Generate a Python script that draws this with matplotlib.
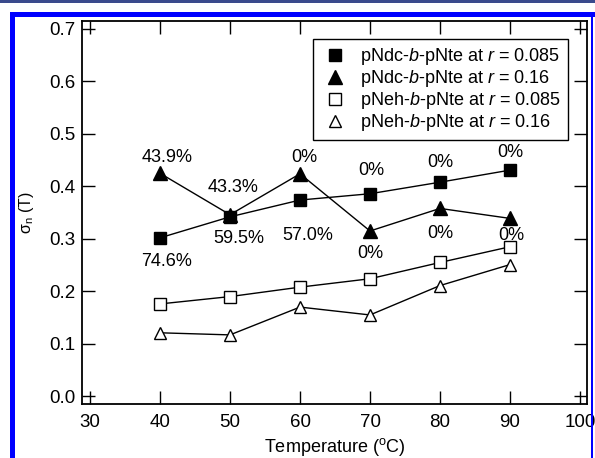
import matplotlib
matplotlib.use("Agg")
import matplotlib.pyplot as plt
from matplotlib.patches import Rectangle

plt.rcParams['font.family'] = ['Liberation Sans', 'DejaVu Sans']
plt.rcParams['mathtext.fontset'] = 'custom'
plt.rcParams['mathtext.rm'] = 'Liberation Sans'
plt.rcParams['mathtext.it'] = 'Liberation Sans:italic'

# data
temps = [40, 50, 60, 70, 80, 90]
ndc_085 = [0.302, 0.342, 0.374, 0.386, 0.408, 0.431]
ndc_16 = [0.425, 0.346, 0.424, 0.315, 0.358, 0.339]
neh_085 = [0.176, 0.190, 0.208, 0.224, 0.255, 0.285]
neh_16 = [0.121, 0.117, 0.170, 0.155, 0.211, 0.251]

labels = [r'pNdc-$\it{b}$-pNte at $\it{r}$ = 0.085',
          r'pNdc-$\it{b}$-pNte at $\it{r}$ = 0.16',
          r'pNeh-$\it{b}$-pNte at $\it{r}$ = 0.085',
          r'pNeh-$\it{b}$-pNte at $\it{r}$ = 0.16']

# percentage annotations (text, x, y)
ann_text = ['43.9%', '43.3%', '0%', '0%', '0%', '0%',
            '74.6%', '59.5%', '57.0%', '0%', '0%', '0%']
ann_x = [41.0, 50.4, 60.6, 70.2, 80.1, 90.0,
         41.0, 51.2, 61.1, 70.0, 80.1, 90.2]
ann_y = [0.456, 0.397, 0.456, 0.431, 0.445, 0.464,
         0.257, 0.300, 0.307, 0.272, 0.311, 0.307]

fig = plt.figure(figsize=(5.95, 4.58), dpi=100)
W, H = 595.0, 458.0

# frame decoration around the figure
fig.add_artist(Rectangle((0, 1 - 2.5 / H), 1, 2.5 / H, transform=fig.transFigure,
                         color='#3a4a8c', lw=0))
fig.add_artist(Rectangle((10 / W, 0), 5 / W, 1 - 12 / H, transform=fig.transFigure,
                         color='#0000ff', lw=0))
fig.add_artist(Rectangle((10 / W, 1 - 16.5 / H), 1, 4.5 / H, transform=fig.transFigure,
                         color='#0000ff', lw=0))
fig.add_artist(Rectangle((591 / W, 0), 2 / W, 1 - 12 / H, transform=fig.transFigure,
                         color='#0000ff', lw=0))

ax = fig.add_axes([82 / W, 1 - 404 / H, 505 / W, 383 / H])

ax.plot(temps, ndc_085, '-s', color='black', mfc='black', mec='black', ms=9, lw=1, label=labels[0])
ax.plot(temps, ndc_16, '-^', color='black', mfc='black', mec='black', ms=10, lw=1, label=labels[1])
ax.plot(temps, neh_085, '-s', color='black', mfc='white', mec='black', ms=8, mew=1, lw=1, label=labels[2])
ax.plot(temps, neh_16, '-^', color='black', mfc='white', mec='black', ms=9, mew=1, lw=1, label=labels[3])

for t, x, y in zip(ann_text, ann_x, ann_y):
    ax.text(x, y, t, ha='center', va='center', fontsize=13)

ax.set_xlim(28.857, 101)
ax.set_ylim(-0.0147, 0.7152)
ax.set_xticks(range(30, 101, 10))
ax.set_yticks([0.0, 0.1, 0.2, 0.3, 0.4, 0.5, 0.6, 0.7])
ax.set_yticklabels(['0.0', '0.1', '0.2', '0.3', '0.4', '0.5', '0.6', '0.7'])
ax.tick_params(direction='in', length=9.5, width=1, top=True, right=True,
               labelsize=13.5, color='black')
ax.tick_params(axis='x', pad=7)
ax.tick_params(axis='y', pad=5)
for s in ax.spines.values():
    s.set_linewidth(1.3)

ax.set_xlabel(r'Temperature ($^{\rm o}$C)', fontsize=13, labelpad=4)
ax.set_ylabel(r'σ$_{\rm n}$ (T)', fontsize=11.5, labelpad=9)

leg = ax.legend(loc='upper right', bbox_to_anchor=(0.9624, 0.953), fontsize=13,
                frameon=True, fancybox=False, edgecolor='black', framealpha=1,
                handlelength=1.6, handletextpad=0.6, labelspacing=0.05,
                borderpad=0.4, borderaxespad=0)
leg.get_frame().set_linewidth(1)
for line in leg.get_lines():
    line.set_linestyle('none')

fig.savefig('out.png', dpi=100)
